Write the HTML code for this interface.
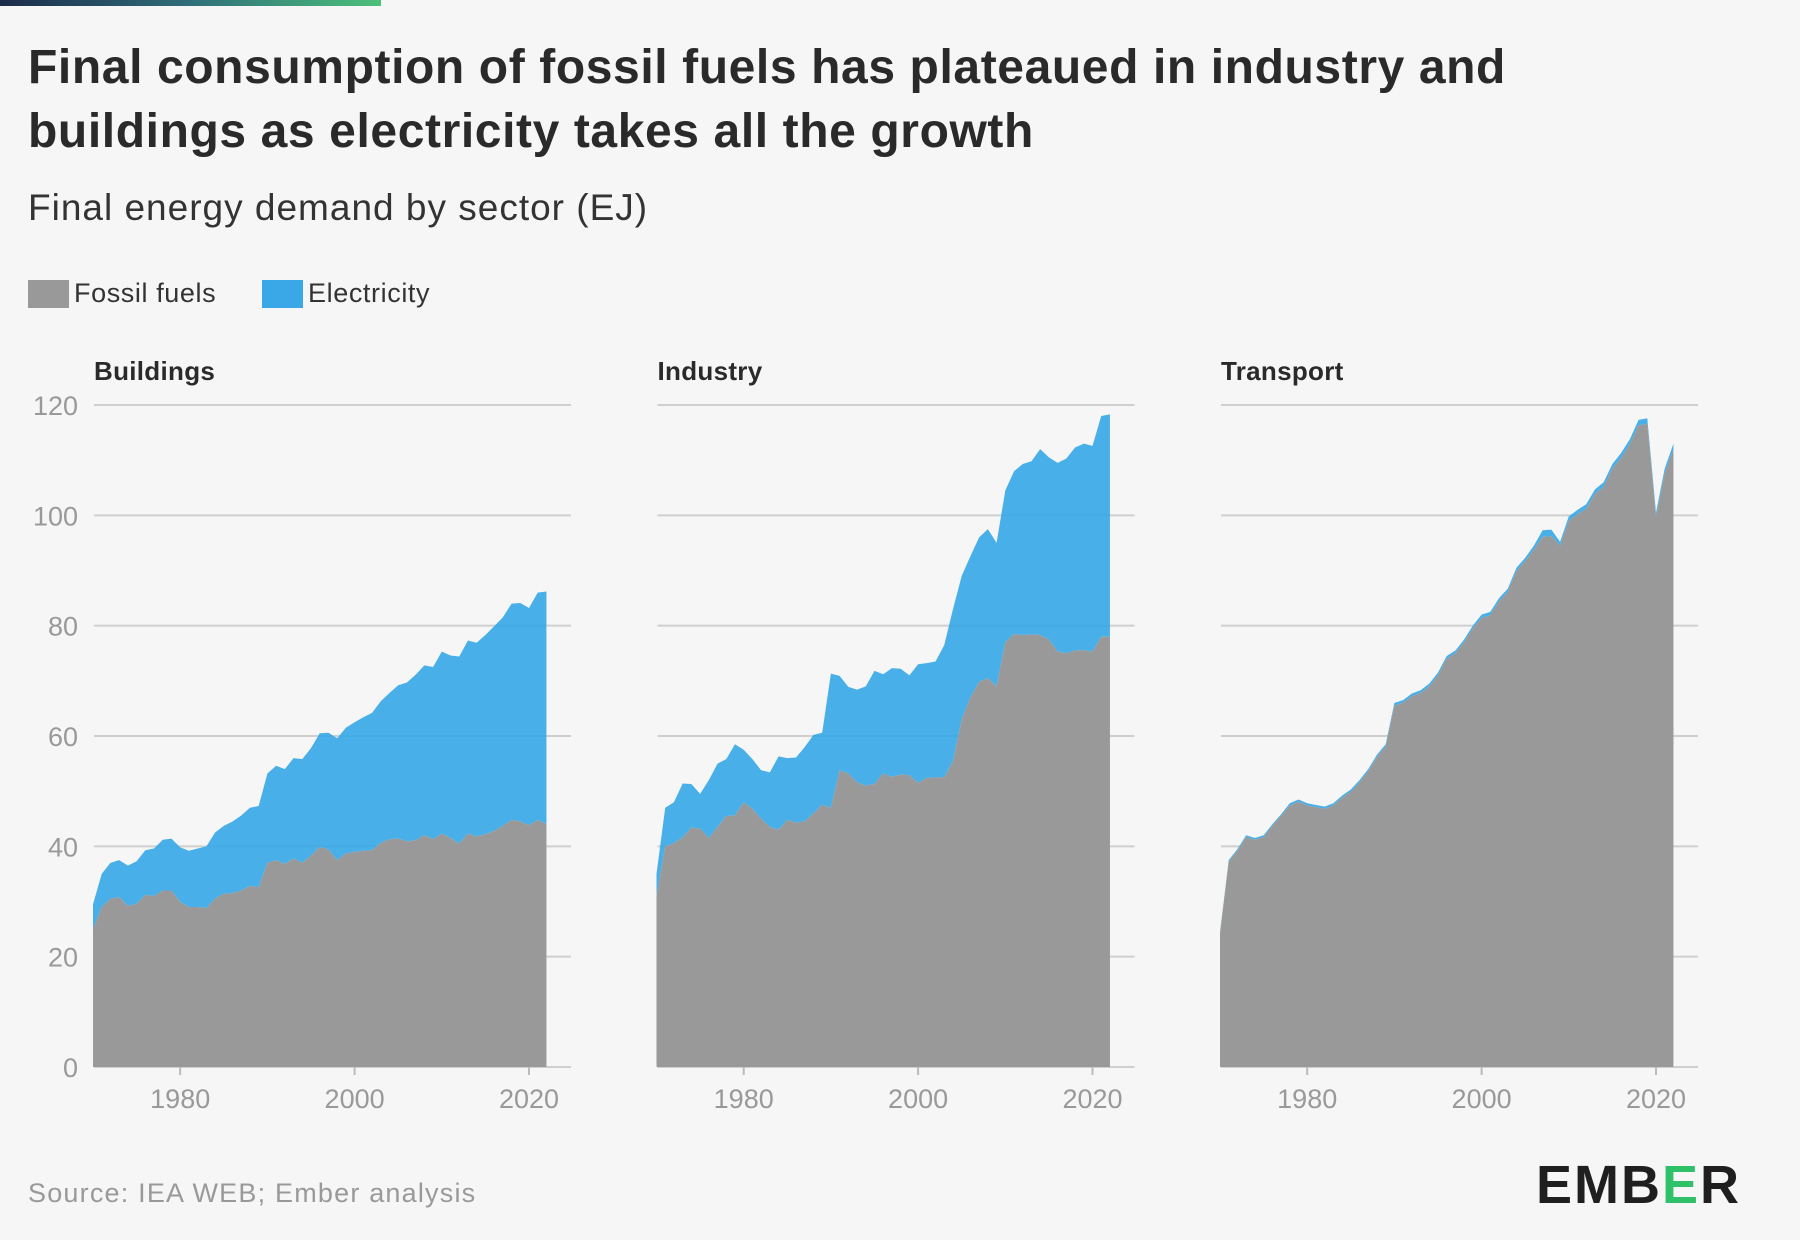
<!DOCTYPE html>
<html><head><meta charset="utf-8"><style>
body{margin:0;background:#f6f6f6;}
#root{position:relative;width:1800px;height:1240px;background:#f6f6f6;font-family:"Liberation Sans",sans-serif;overflow:hidden}
.t{position:absolute;white-space:nowrap}
</style></head><body>
<div id="root">
<div class="t" style="left:0;top:0;width:381px;height:6px;background:linear-gradient(90deg,#1c2b4a,#2f6f7a 50%,#4cc07a)"></div>
<div class="t" style="left:28px;top:36px;font-size:48px;letter-spacing:0.6px;font-weight:bold;color:#2a2a2a;line-height:64px">Final consumption of fossil fuels has plateaued in industry and<br>buildings as electricity takes all the growth</div>
<div class="t" style="left:28px;top:187px;font-size:37px;letter-spacing:1px;color:#333">Final energy demand by sector (EJ)</div>
<div class="t" style="left:28px;top:278px;font-size:27px;letter-spacing:0.6px;color:#333;display:flex;align-items:center"><span style="display:inline-block;width:41px;height:28px;background:#999;margin-right:5px"></span>Fossil fuels</div>
<div class="t" style="left:262px;top:278px;font-size:27px;letter-spacing:0.6px;color:#333;display:flex;align-items:center"><span style="display:inline-block;width:41px;height:28px;background:#3aa8e6;margin-right:5px"></span>Electricity</div>
<svg id="svg" width="1800" height="1240" style="position:absolute;left:0;top:0"></svg>
<div class="t" style="left:28px;top:1178px;font-size:27px;letter-spacing:1.2px;color:#999">Source: IEA WEB; Ember analysis</div>
<div class="t" style="left:1536px;top:1154px;font-size:54px;font-weight:bold;color:#1f1f1f;letter-spacing:2px">EMB<span style="color:#2fc06a">E</span>R</div>
</div>
<script>
const years=[];for(let y=1970;y<=2022;y++)years.push(y);
const panelTitles=["Buildings","Industry","Transport"];
const yTicks=[0,20,40,60,80,100,120];
const xTicks=[1980,2000,2020];
const buildingsTotal=[29.5,35,37,37.5,36.5,37.3,39.3,39.6,41.2,41.4,39.8,39.2,39.6,40,42.5,43.7,44.5,45.6,47,47.3,53.2,54.6,54,56,55.8,57.8,60.5,60.6,59.6,61.5,62.5,63.4,64.2,66.3,67.8,69.2,69.7,71.1,72.8,72.5,75.3,74.6,74.4,77.3,76.9,78.3,79.9,81.5,84,84.1,83.2,86,86.2];
const buildingsFossil=[25,29,30.5,30.8,29.2,29.6,31.2,31,32,32,29.9,29,29,28.8,30.5,31.4,31.5,32,32.8,32.6,37,37.5,36.8,37.8,37,38.3,39.9,39.4,37.5,38.7,39,39.2,39.3,40.6,41.3,41.4,40.9,41.1,42,41.3,42.3,41.5,40.5,42.3,41.8,42.2,42.8,43.7,44.8,44.5,43.8,44.8,44];
const industryTotal=[35,47,48,51.4,51.3,49.5,52,55,55.8,58.5,57.5,55.8,53.8,53.4,56.3,56,56.1,58,60.2,60.6,71.3,70.9,68.9,68.4,69,71.8,71.2,72.3,72.2,71,73,73.2,73.5,76.5,83,89,92.6,96,97.5,95,104.5,108,109.3,109.8,112,110.5,109.5,110.3,112.3,113,112.6,118,118.3];
const industryFossil=[31,40,40.6,41.6,43.4,43.2,41.5,43.5,45.5,45.6,48,46.8,45,43.5,43,44.8,44.3,44.5,46,47.5,47,53.8,53.2,51.6,51,51.3,53.2,52.6,53,52.9,51.5,52.4,52.5,52.5,55.5,63,67,69.8,70.5,69,77,78.5,78.3,78.4,78.3,77.5,75.3,75,75.5,75.6,75.3,78,78];
const transportTotal=[24.5,37.5,39.5,42,41.5,42,44,45.8,47.8,48.5,47.8,47.5,47.2,47.8,49.2,50.3,52,54,56.6,58.5,66,66.5,67.7,68.3,69.5,71.5,74.5,75.5,77.5,80,82,82.5,85,86.7,90.5,92.3,94.5,97.3,97.4,95.2,99.8,101,102,104.7,106,109.3,111.3,113.8,117.3,117.6,100.5,108.5,113];
const transportElec=[0.3,0.3,0.3,0.3,0.3,0.3,0.3,0.3,0.4,0.4,0.4,0.4,0.4,0.4,0.4,0.4,0.4,0.4,0.4,0.4,0.5,0.5,0.5,0.5,0.5,0.5,0.5,0.5,0.5,0.5,0.6,0.6,0.6,0.6,0.6,0.6,0.7,1.2,1.2,0.7,0.8,0.8,0.8,0.8,0.8,0.8,0.9,0.9,1,1,0.8,0.9,1];
const transportFossil=transportTotal.map((v,i)=>v-transportElec[i]);
const panels=[[buildingsFossil,buildingsTotal],[industryFossil,industryTotal],[transportFossil,transportTotal]];
const svg=document.getElementById('svg');const NS='http://www.w3.org/2000/svg';
function mk(t,a){const e=document.createElementNS(NS,t);for(const k in a)e.setAttribute(k,a[k]);svg.appendChild(e);return e;}
const y0=1067,y120=405;
function ys(v){return y0-(v/120)*(y0-y120);}
panels.forEach((p,pi)=>{
  const off=pi*563.5;
  const gx0=94+off,gx1=571+off;
  function xs(yr){return 93+off+(yr-1970)*8.72;}
  const ttl=mk('text',{x:gx0,y:380,'font-size':26,'font-weight':'bold',fill:'#2a2a2a','letter-spacing':0.3});
  ttl.textContent=panelTitles[pi];
  
  
  yTicks.forEach(t=>{
    const l=mk('line',{x1:gx0,x2:gx1,y1:ys(t),y2:ys(t),stroke:'#cfcfcf','stroke-width':2});
    
    
    if(pi===0){const tx=mk('text',{x:78,y:ys(t)+10,'font-size':27,fill:'#999','text-anchor':'end'});tx.textContent=t;
      
      }
  });
  let top='',bot='';
  years.forEach((yr,i)=>{top+=(i?'L':'M')+xs(yr)+','+ys(p[1][i]);});
  for(let i=years.length-1;i>=0;i--)bot+='L'+xs(years[i])+','+ys(p[0][i]);
  const el=mk('path',{d:top+bot+'Z',fill:'#3aa8e6','fill-opacity':0.92});
  
  
  let f='M'+xs(1970)+','+ys(0);
  years.forEach((yr,i)=>{f+='L'+xs(yr)+','+ys(p[0][i]);});
  f+='L'+xs(2022)+','+ys(0)+'Z';
  const fa=mk('path',{d:f,fill:'#999999'});
  
  
  xTicks.forEach(t=>{
    const tk=mk('line',{x1:xs(t),x2:xs(t),y1:y0,y2:y0+8,stroke:'#bbb','stroke-width':2});
    
    
    const tx=mk('text',{x:xs(t),y:1108,'font-size':27,fill:'#999','text-anchor':'middle'});tx.textContent=t;
    
    
  });
});
</script>
</body></html>
